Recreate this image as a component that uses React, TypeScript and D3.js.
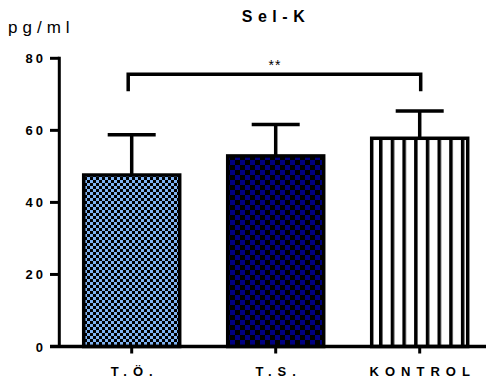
import React from 'react';
import * as d3 from 'd3';

// data
const categories = ['T.Ö.', 'T.S.', 'KONTROL'];
const means = [47.6, 52.9, 57.8];
const errTops = [58.8, 61.6, 65.4];
const yTicks = [0, 20, 40, 60, 80];
const sigLabel = '**';
const sigLevel = 75.6;

const W = 489;
const H = 384;

export default function App() {
  const y = d3.scaleLinear().domain([0, 80]).range([346.5, 58.3]);
  const x = d3.scalePoint<string>().domain(categories).range([59.7, 491.7]).padding(0.5);

  const barW = 96;
  const capW = 48;
  const sw = 3.5;
  const axisX = 59.3;
  const fills = ['url(#checkFine)', 'url(#checkNavy)', 'url(#stripes)'];

  const sigY = y(sigLevel);
  const leftX = (x(categories[0]) as number) - 3.5;
  const rightX = (x(categories[2]) as number) + 1;

  return (
    <svg width={W} height={H} style={{ position: 'absolute', left: 0, top: 0 }}
      fontFamily="'Liberation Sans', Arial, sans-serif">
      <defs>
        <pattern id="checkFine" patternUnits="userSpaceOnUse" width={6} height={6}>
          <rect width={6} height={6} fill="#000" />
          <rect width={3} height={3} fill="#80b3f2" />
          <rect x={3} y={3} width={3} height={3} fill="#80b3f2" />
        </pattern>
        <pattern id="checkNavy" patternUnits="userSpaceOnUse" width={10} height={10}>
          <rect width={10} height={10} fill="#000" />
          <rect width={5} height={5} fill="#000080" />
          <rect x={5} y={5} width={5} height={5} fill="#000080" />
        </pattern>
        <pattern id="stripes" patternUnits="userSpaceOnUse" x={379} width={11.7} height={10}>
          <rect width={11.7} height={10} fill="#fff" />
          <rect width={3.5} height={10} fill="#000" />
        </pattern>
      </defs>

      <text x={276} y={22} textAnchor="middle" fontSize={16} fontWeight="bold" letterSpacing={5.5}>Sel-K</text>
      <text x={8} y={33} fontSize={17} letterSpacing={5}>pg/ml</text>

      {/* bars */}
      {categories.map((c, i) => {
        const cx = x(c) as number;
        return (
          <g key={c}>
            <line x1={cx} x2={cx} y1={y(means[i])} y2={y(errTops[i])} stroke="#000" strokeWidth={sw} />
            <line x1={cx - capW / 2} x2={cx + capW / 2} y1={y(errTops[i])} y2={y(errTops[i])} stroke="#000" strokeWidth={sw} />
            <rect x={cx - barW / 2} y={y(means[i])} width={barW} height={y(0) - y(means[i])}
              fill={fills[i]} stroke="#000" strokeWidth={sw} />
          </g>
        );
      })}

      {/* y axis */}
      <line x1={axisX} x2={axisX} y1={y(80) - 1.5} y2={y(0)} stroke="#000" strokeWidth={3} />
      {yTicks.map((t) => (
        <g key={t}>
          <line x1={50} x2={axisX} y1={y(t)} y2={y(t)} stroke="#000" strokeWidth={3} />
          <text x={46} y={y(t) + 5} textAnchor="end" fontSize={13} fontWeight="bold" letterSpacing={3}>{t}</text>
        </g>
      ))}

      {/* x axis */}
      <line x1={50} x2={486} y1={y(0)} y2={y(0)} stroke="#000" strokeWidth={3.5} />
      {categories.map((c) => (
        <g key={c}>
          <line x1={x(c) as number} x2={x(c) as number} y1={y(0)} y2={y(0) + 7} stroke="#000" strokeWidth={3} />
          <text x={(x(c) as number) + 3} y={376} textAnchor="middle" fontSize={13} fontWeight="bold" letterSpacing={6}>{c}</text>
        </g>
      ))}

      {/* significance bracket */}
      <path d={`M${leftX},${sigY + 17}V${sigY}H${rightX}V${sigY + 17}`} fill="none" stroke="#000" strokeWidth={3.5} />
      <text x={275} y={sigY - 4} textAnchor="middle" fontSize={14} letterSpacing={1}>{sigLabel}</text>
    </svg>
  );
}
